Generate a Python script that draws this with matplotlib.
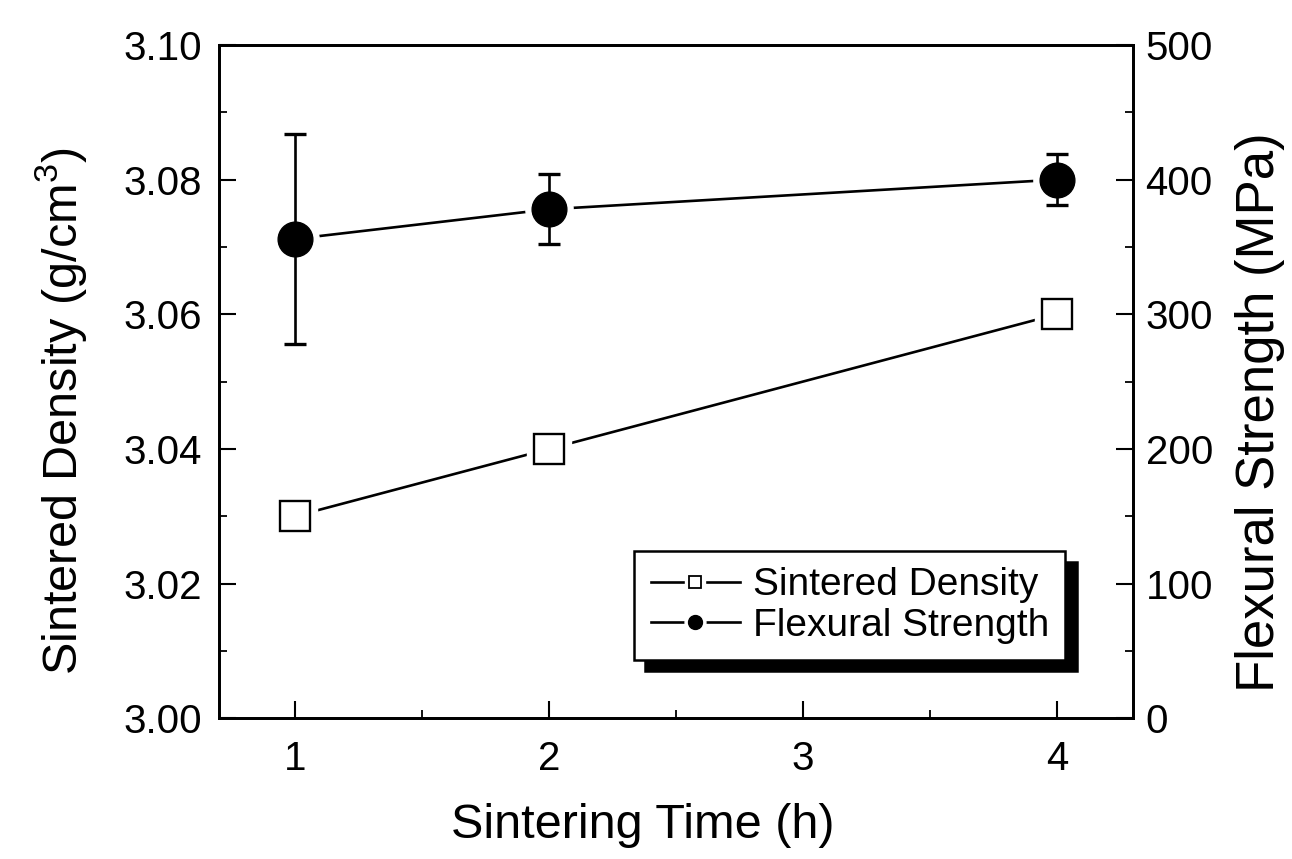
import matplotlib
matplotlib.use("Agg")
import matplotlib.pyplot as plt
from matplotlib.lines import Line2D
from matplotlib.legend_handler import HandlerTuple
from matplotlib.ticker import MultipleLocator

# ---- data ----
time_h = [1, 2, 4]
density = [3.030, 3.040, 3.060]
strength = [356, 378, 400]
strength_err = [78, 26, 19]

x_ticks = [1, 2, 3, 4]
left_ticks = [3.00, 3.02, 3.04, 3.06, 3.08, 3.10]
right_ticks = [0, 100, 200, 300, 400, 500]

plt.rcParams['font.family'] = ['Liberation Sans', 'DejaVu Sans']
plt.rcParams['mathtext.fontset'] = 'custom'
plt.rcParams['mathtext.rm'] = 'Liberation Sans'

fig = plt.figure(figsize=(12.92, 8.59), dpi=100)
ax = fig.add_axes([0.1695, 0.164, 0.7075, 0.7836])
ax2 = ax.twinx()

lw = 1.9
# density series
ax.plot(time_h, density, color='black', lw=lw, zorder=1)
ax.plot(time_h, density, ls='none', marker='s', ms=31, mfc='white', mec='white', zorder=2)
ax.plot(time_h, density, ls='none', marker='s', ms=21, mfc='white', mec='black', mew=1.7, zorder=3)

# strength series
ax2.plot(time_h, strength, color='black', lw=lw, zorder=1)
ax2.plot(time_h, strength, ls='none', marker='o', ms=34, mfc='white', mec='white', zorder=2)
ax2.errorbar(time_h, strength, yerr=strength_err, fmt='none', ecolor='black',
             elinewidth=1.9, capsize=8, capthick=2.4, zorder=3)
ax2.plot(time_h, strength, ls='none', marker='o', ms=25, mfc='black', mec='black', zorder=4)

ax.set_xlim(0.7, 4.3)
ax.set_ylim(3.00, 3.10)
ax2.set_ylim(0, 500)

ax.set_xticks(x_ticks)
ax.set_yticks(left_ticks)
ax.set_yticklabels([f"{v:.2f}" for v in left_ticks])
ax2.set_yticks(right_ticks)
ax.xaxis.set_minor_locator(MultipleLocator(0.5))
ax.yaxis.set_minor_locator(MultipleLocator(0.01))
ax2.yaxis.set_minor_locator(MultipleLocator(50))

for a in (ax, ax2):
    for s in a.spines.values():
        s.set_linewidth(2.0)
ax.tick_params(axis='both', which='major', direction='in', length=12, width=1.5, labelsize=29)
ax.tick_params(axis='both', which='minor', direction='in', length=6, width=1.3)
ax.tick_params(axis='x', which='both', top=False, pad=16)
ax.tick_params(axis='y', which='both', right=False, pad=12)
ax2.tick_params(axis='y', which='major', direction='in', length=12, width=1.5, labelsize=29, pad=9)
ax2.tick_params(axis='y', which='minor', direction='in', length=6, width=1.3)

ax.set_xlabel("Sintering Time (h)", fontsize=35, labelpad=18)
ax.set_ylabel(r"Sintered Density (g/cm$^3$)", fontsize=35, labelpad=24)
ax2.set_ylabel("Flexural Strength (MPa)", fontsize=38, labelpad=16)
ax.xaxis.label.set_x(0.464)
ax.yaxis.label.set_y(0.456)
ax2.yaxis.label.set_y(0.455)

# legend
h_den = (Line2D([], [], color='black', lw=lw),
         Line2D([], [], ls='none', marker='s', ms=14, mfc='white', mec='white'),
         Line2D([], [], ls='none', marker='s', ms=9, mfc='white', mec='black', mew=1.3))
h_str = (Line2D([], [], color='black', lw=lw),
         Line2D([], [], ls='none', marker='o', ms=15, mfc='white', mec='white'),
         Line2D([], [], ls='none', marker='o', ms=10, mfc='black', mec='black'))
leg = ax2.legend([h_den, h_str], ["Sintered Density", "Flexural Strength"],
                 handler_map={tuple: HandlerTuple(ndivide=1)},
                 loc='lower right', bbox_to_anchor=(0.926, 0.086), borderaxespad=0,
                 fontsize=28, frameon=True, fancybox=False, framealpha=1,
                 edgecolor='black', handlelength=2.3, handletextpad=0.33,
                 labelspacing=0.12, borderpad=0.42,
                 shadow={'ox': 8, 'oy': -8, 'facecolor': 'black', 'edgecolor': 'black', 'alpha': 1})
leg.get_frame().set_linewidth(1.8)
leg.set_zorder(10)

fig.savefig("out.png", dpi=100)
